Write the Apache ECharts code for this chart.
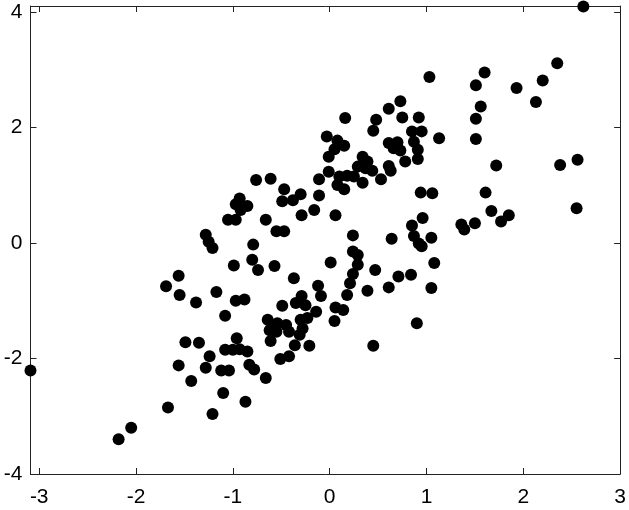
<!DOCTYPE html>
<html>
<head>
<meta charset="utf-8">
<script src="https://cdn.jsdelivr.net/npm/echarts@6/dist/echarts.min.js"></script>
<style>
  html, body { margin: 0; padding: 0; background: #fff; }
  #chart { width: 629px; height: 510px; }
</style>
</head>
<body>
<div id="chart"></div>
<script>
// x / y values of the scatter (same order in both lists)
const xs = [
  -3.09, -2.18, -2.05, -1.67, -1.56, -1.69, -1.56, -1.55, -1.38, -1.17,
  -0.97, -0.88, -1.08, -1.43, -1.10, -0.87, -1.21, -1.49, -1.35, -0.96,
  -1.08, -1.00, -0.93, -0.85, -1.24, -1.28, -1.12, -1.04, -0.83, -0.78,
  -0.66, -0.51, -0.42, -0.64, -0.59, -0.54, -0.45, -0.62, -0.55, -0.42,
  -0.30, -0.23, -0.28, -0.31, -0.61, -0.36, -0.21, 0.05, -0.49, -0.35,
  -0.25, -0.14, 0.06, 0.14, -0.37, -0.12, -0.09, -0.29, 0.18, 0.21,
  // upper-left cloud
  -0.76, -0.61, -0.11, -0.01, 0.10, 0.08, 0.15, -0.47, -0.30, -0.49,
  -0.38, -0.11, -0.93, -0.97, -0.85, -0.92, -0.16, -0.29, 0.06, -1.05,
  -0.97, -0.66, -0.55, -0.47, -1.28, -1.25, -1.21, -0.79, -0.99, -0.80,
  -0.74, -0.57, 0.01,
  // middle
  -0.01, -0.03, 0.08, 0.15, 0.05, 0.16, 0.48, 0.45, 0.61, 0.73,
  0.75, 0.92, 0.85, 0.95, 1.13, 1.03, 0.61, 0.70, 0.66, 0.73,
  0.87, 0.91, 0.91, 0.78, 0.34, 0.39, 0.29, 0.37, 0.44, 0.61,
  0.63, 0.18, 0.25, 0.34, 0.53, 0.94, 1.06, 0.96, 0.85, 0.24,
  0.64, 0.87, 1.05, 1.36, 1.39, 0.92, 0.95, 0.24, 0.29, 0.29,
  0.24, 0.47, 0.71, 0.84, 1.08, 1.05, 0.61, 0.39, 0.90, 0.45,
  // right
  2.62, 2.35, 2.20, 1.93, 2.13, 1.60, 1.51, 1.56, 1.51, 1.51,
  2.56, 1.72, 2.38, 1.61, 1.67, 1.85, 1.77, 1.50, 2.55
];
const ys = [
  -2.21, -3.40, -3.20, -2.85, -2.12, -0.75, -0.57, -0.90, -1.03, -0.85,
  -1.00, -0.98, -1.26, -2.39, -2.60, -2.75, -2.96, -1.72, -1.73, -1.65,
  -1.85, -1.85, -1.84, -1.88, -1.96, -2.16, -2.21, -2.21, -2.11, -2.19,
  -2.34, -2.01, -1.96, -1.33, -1.42, -1.39, -1.42, -1.51, -1.54, -1.54,
  -1.33, -1.30, -1.48, -1.59, -1.70, -1.77, -1.78, -1.35, -1.09, -1.04,
  -1.08, -1.19, -1.12, -1.16, -0.61, -0.74, -0.92, -0.92, -0.90, -0.70,
  // upper-left cloud
  1.09, 1.11, 1.10, 1.23, 1.15, 1.00, 0.93, 0.93, 0.84, 0.72,
  0.74, 0.82, 0.77, 0.67, 0.64, 0.57, 0.57, 0.48, 0.48, 0.40,
  0.40, 0.40, 0.20, 0.20, 0.14, 0.02, -0.09, -0.03, -0.39, -0.29,
  -0.47, -0.40, -0.34,
  // middle
  1.49, 1.84, 1.77, 1.68, 1.62, 2.16, 2.13, 1.94, 2.32, 2.45,
  2.17, 2.17, 1.93, 1.93, 1.81, 2.87, 1.73, 1.74, 1.64, 1.60,
  1.75, 1.61, 1.45, 1.41, 1.49, 1.41, 1.32, 1.29, 1.25, 1.33,
  1.25, 1.16, 1.15, 1.04, 1.10, 0.87, 0.86, 0.43, 0.30, 0.13,
  0.07, 0.12, 0.09, 0.32, 0.23, -0.01, -0.06, -0.15, -0.21, -0.38,
  -0.54, -0.47, -0.58, -0.55, -0.35, -0.78, -0.77, -0.83, -1.39, -1.78,
  // right
  4.09, 3.11, 2.81, 2.68, 2.44, 2.95, 2.73, 2.36, 2.15, 1.80,
  1.44, 1.34, 1.35, 0.87, 0.55, 0.48, 0.37, 0.34, 0.60
];

const xRange = [-3.09, 3];
const yRange = [-4, 4.1];

const points = xs.map((x, i) => [x, ys[i]]);

const axisColor = '#222';
const labelFont = { fontFamily: 'Liberation Sans', fontSize: 21, color: '#000' };

function axis(extra, showLabel, range) {
  return Object.assign({
    type: 'value',
    min: range[0],
    max: range[1],
    splitLine: { show: false },
    axisLine: { show: true, onZero: false, lineStyle: { color: axisColor, width: 1 } },
    axisTick: { show: true, inside: true, length: 6, lineStyle: { color: axisColor } },
    axisLabel: Object.assign({ show: showLabel, showMinLabel: false, showMaxLabel: false }, labelFont)
  }, extra);
}

const chart = echarts.init(document.getElementById('chart'));
chart.setOption({
  animation: false,
  grid: { left: 30.5, right: 8, top: 6, bottom: 36, containLabel: false },
  xAxis: [
    axis({ position: 'bottom' }, true, xRange),
    axis({ position: 'top' }, false, xRange)
  ],
  yAxis: [
    axis({ position: 'left' }, true, yRange),
    axis({ position: 'right' }, false, yRange)
  ],
  series: [{
    type: 'scatter',
    data: points,
    symbolSize: 12,
    clip: true,
    itemStyle: { color: '#000', opacity: 1 }
  }]
});
// x axis labels sit lower than the default gap, y labels a bit closer
chart.setOption({
  xAxis: [{ axisLabel: { margin: 13, showMinLabel: false, showMaxLabel: true } }, {}],
  yAxis: [{ axisLabel: { margin: 8, showMinLabel: true, showMaxLabel: false } }, {}]
});
</script>
</body>
</html>
